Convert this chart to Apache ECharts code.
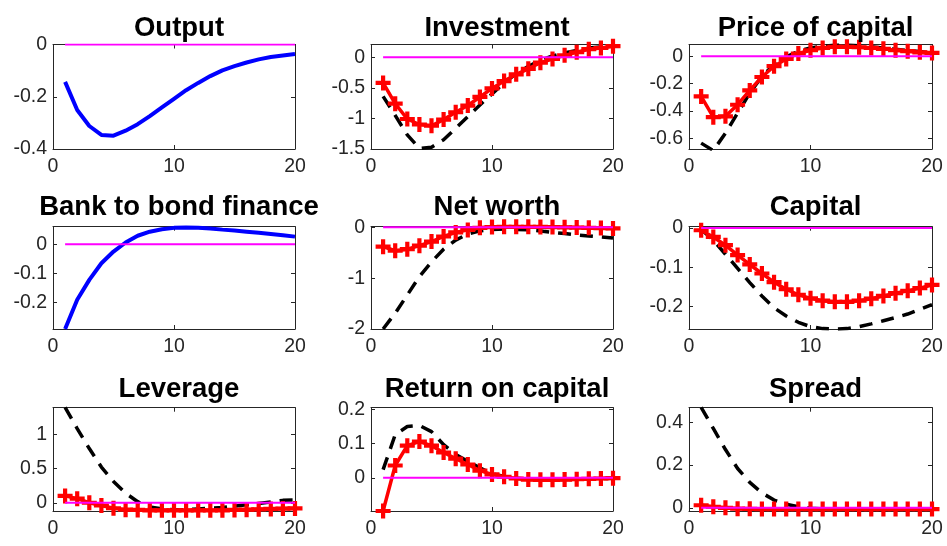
<!DOCTYPE html>
<html>
<head>
<meta charset="utf-8">
<script src="https://cdn.jsdelivr.net/npm/echarts@6/dist/echarts.min.js"></script>
<style>
html,body{margin:0;padding:0;background:#fff;}
#chart{width:947px;height:546px;}
</style>
</head>
<body>
<div id="chart"></div>
<script>
// ---------- data ----------
const periods = [1,2,3,4,5,6,7,8,9,10,11,12,13,14,15,16,17,18,19,20];
const zeroLine = [0,0,0,0,0,0,0,0,0,0,0,0,0,0,0,0,0,0,0,0];

const titles = ['Output','Investment','Price of capital','Bank to bond finance','Net worth','Capital','Leverage','Return on capital','Spread'];

const outputBlue = [-0.143,-0.251,-0.312,-0.346,-0.349,-0.330,-0.305,-0.274,-0.241,-0.208,-0.175,-0.147,-0.121,-0.099,-0.083,-0.069,-0.057,-0.048,-0.042,-0.036];
const bankBondBlue = [-0.29,-0.19,-0.122,-0.065,-0.025,0.006,0.029,0.043,0.051,0.056,0.057,0.056,0.054,0.050,0.047,0.043,0.039,0.035,0.031,0.026];

const investmentRed = [-0.42,-0.76,-1.01,-1.10,-1.12,-1.02,-0.90,-0.79,-0.65,-0.51,-0.39,-0.28,-0.19,-0.09,-0.03,0.03,0.08,0.13,0.15,0.18];
const investmentBlack = [-0.64,-0.95,-1.27,-1.49,-1.47,-1.35,-1.16,-0.97,-0.78,-0.60,-0.42,-0.27,-0.15,-0.05,0.02,0.07,0.11,0.15,0.17,0.18];

const priceRed = [-0.294,-0.446,-0.44,-0.355,-0.25,-0.152,-0.073,-0.02,0.02,0.044,0.061,0.069,0.069,0.066,0.061,0.054,0.044,0.037,0.029,0.024];
const priceBlack = [-0.636,-0.69,-0.563,-0.416,-0.27,-0.147,-0.06,-0.005,0.037,0.061,0.073,0.081,0.081,0.076,0.069,0.061,0.051,0.042,0.034,0.024];

const netWorthRed = [-0.38,-0.46,-0.43,-0.36,-0.28,-0.18,-0.10,-0.05,-0.01,0.005,0.01,0.01,0.01,0.008,0.005,0.0,-0.005,-0.01,-0.015,-0.02];
const netWorthBlack = [-2.0,-1.69,-1.33,-0.97,-0.68,-0.43,-0.25,-0.13,-0.07,-0.04,-0.03,-0.04,-0.05,-0.07,-0.10,-0.12,-0.15,-0.17,-0.19,-0.21];

const capitalRed = [-0.006,-0.023,-0.044,-0.069,-0.093,-0.116,-0.138,-0.156,-0.170,-0.179,-0.185,-0.188,-0.188,-0.185,-0.180,-0.173,-0.166,-0.160,-0.153,-0.145];
const capitalBlack = [-0.004,-0.031,-0.067,-0.103,-0.139,-0.173,-0.203,-0.224,-0.240,-0.251,-0.256,-0.257,-0.256,-0.251,-0.244,-0.236,-0.228,-0.219,-0.207,-0.195];

const leverageRed = [0.10,0.06,0.0,-0.04,-0.08,-0.10,-0.105,-0.11,-0.11,-0.11,-0.11,-0.11,-0.11,-0.11,-0.105,-0.10,-0.095,-0.09,-0.085,-0.083];
const leverageBlack = [1.39,1.08,0.79,0.52,0.31,0.14,0.015,-0.06,-0.09,-0.10,-0.10,-0.09,-0.08,-0.07,-0.05,-0.03,-0.01,0.01,0.035,0.04];

const returnRed = [-0.097,0.036,0.094,0.106,0.094,0.074,0.056,0.039,0.021,0.010,0.003,-0.002,-0.005,-0.006,-0.006,-0.005,-0.004,-0.003,-0.002,-0.001];
const returnBlack = [0.024,0.126,0.150,0.153,0.135,0.097,0.068,0.048,0.029,0.012,0.004,-0.001,-0.004,-0.005,-0.005,-0.005,-0.004,-0.003,-0.002,-0.001];

const spreadRed = [0.012,0.005,0.0,-0.004,-0.005,-0.006,-0.006,-0.006,-0.006,-0.006,-0.006,-0.006,-0.006,-0.006,-0.006,-0.006,-0.006,-0.006,-0.006,-0.006];
const spreadBlack = [0.47,0.372,0.273,0.184,0.119,0.07,0.036,0.017,0.005,-0.002,-0.005,-0.007,-0.008,-0.008,-0.008,-0.008,-0.007,-0.006,-0.006,-0.005];

const xTicks = [0,10,20];
const yRanges = [[-0.4,0],[-1.5,0.207],[-0.679,0.086],[-0.29,0.06],[-2,0.013],[-0.257,0.003],[-0.12,1.385],[-0.097,0.205],[-0.015,0.469]];
const yTicks = [[-0.4,-0.2,0],[-1.5,-1,-0.5,0],[-0.6,-0.4,-0.2,0],[-0.2,-0.1,0],[-2,-1,0],[-0.2,-0.1,0],[0,0.5,1],[0,0.1,0.2],[0,0.2,0.4]];

const blueSeries = {0: outputBlue, 3: bankBondBlue};
const redSeries = {1: investmentRed, 2: priceRed, 4: netWorthRed, 5: capitalRed, 6: leverageRed, 7: returnRed, 8: spreadRed};
const blackSeries = {1: investmentBlack, 2: priceBlack, 4: netWorthBlack, 5: capitalBlack, 6: leverageBlack, 7: returnBlack, 8: spreadBlack};

// ---------- layout ----------
const colLeft = [53, 371, 689];
const colWidth = [242, 242, 243];
const rowTop = [44.5, 226.7, 407.7];
const rowHeight = [104.5, 102.3, 103.3];
const titleTop = [9, 188.5, 370];

const FONT = '"Liberation Sans", Arial, Helvetica, sans-serif';
const AX = '#262626';
const plusPath = 'path://M3.6,0H6.4V3.6H10V6.4H6.4V10H3.6V6.4H0V3.6H3.6Z';

const pairs = arr => periods.map((p, i) => [p, arr[i]]);

const grids = [], xAxes = [], yAxes = [], series = [], titleOpts = [];
for (let i = 0; i < 9; i++) {
  const r = Math.floor(i / 3), c = i % 3;
  grids.push({left: colLeft[c], top: rowTop[r], width: colWidth[c], height: rowHeight[r], containLabel: false, show: false});
  titleOpts.push({
    text: titles[i], left: colLeft[c] + colWidth[c] / 2, top: titleTop[r], textAlign: 'center',
    textStyle: {fontFamily: FONT, fontWeight: 'bold', fontSize: 27.5, color: '#000'}
  });
  const axisLine = {show: true, onZero: false, lineStyle: {color: AX, width: 1}};
  xAxes.push({
    type: 'value', gridIndex: i, position: 'bottom', min: 0, max: 20,
    axisLine, splitLine: {show: false},
    axisTick: {show: true, inside: true, length: 4, customValues: xTicks, lineStyle: {color: AX}},
    axisLabel: {show: true, customValues: xTicks, margin: 8, fontFamily: FONT, fontSize: 19.5, color: AX}
  });
  xAxes.push({
    type: 'value', gridIndex: i, position: 'top', min: 0, max: 20,
    axisLine, splitLine: {show: false},
    axisTick: {show: true, inside: true, length: 4, customValues: xTicks, lineStyle: {color: AX}},
    axisLabel: {show: false}
  });
  yAxes.push({
    type: 'value', gridIndex: i, position: 'left', min: yRanges[i][0], max: yRanges[i][1],
    axisLine, splitLine: {show: false},
    axisTick: {show: true, inside: true, length: 4, customValues: yTicks[i], lineStyle: {color: AX}},
    axisLabel: {show: true, customValues: yTicks[i], margin: 6, fontFamily: FONT, fontSize: 19.5, color: AX}
  });
  yAxes.push({
    type: 'value', gridIndex: i, position: 'right', min: yRanges[i][0], max: yRanges[i][1],
    axisLine, splitLine: {show: false},
    axisTick: {show: true, inside: true, length: 4, customValues: yTicks[i], lineStyle: {color: AX}},
    axisLabel: {show: false}
  });
  const xi = 2 * i, yi = 2 * i;
  if (blackSeries[i]) {
    series.push({type: 'line', xAxisIndex: xi, yAxisIndex: yi, data: pairs(blackSeries[i]), showSymbol: false, symbol: 'none', z: 2,
      lineStyle: {color: '#000', width: 3.5, type: [13, 9]}});
  }
  if (redSeries[i]) {
    series.push({type: 'line', xAxisIndex: xi, yAxisIndex: yi, data: pairs(redSeries[i]), z: 3,
      symbol: plusPath, symbolSize: 15, showSymbol: true,
      itemStyle: {color: '#ff0000'}, lineStyle: {color: '#ff0000', width: 3.5}});
  }
  if (blueSeries[i]) {
    series.push({type: 'line', xAxisIndex: xi, yAxisIndex: yi, data: pairs(blueSeries[i]), showSymbol: false, symbol: 'none', z: 3,
      lineStyle: {color: '#0000ff', width: 4}});
  }
  series.push({type: 'line', xAxisIndex: xi, yAxisIndex: yi, data: pairs(zeroLine), showSymbol: false, symbol: 'none', z: 4,
    lineStyle: {color: '#ff00ff', width: 2}});
}

const chart = echarts.init(document.getElementById('chart'), null, {renderer: 'canvas'});
chart.setOption({
  animation: false,
  backgroundColor: '#fff',
  title: titleOpts,
  grid: grids,
  xAxis: xAxes,
  yAxis: yAxes,
  series: series
});
</script>
</body>
</html>
